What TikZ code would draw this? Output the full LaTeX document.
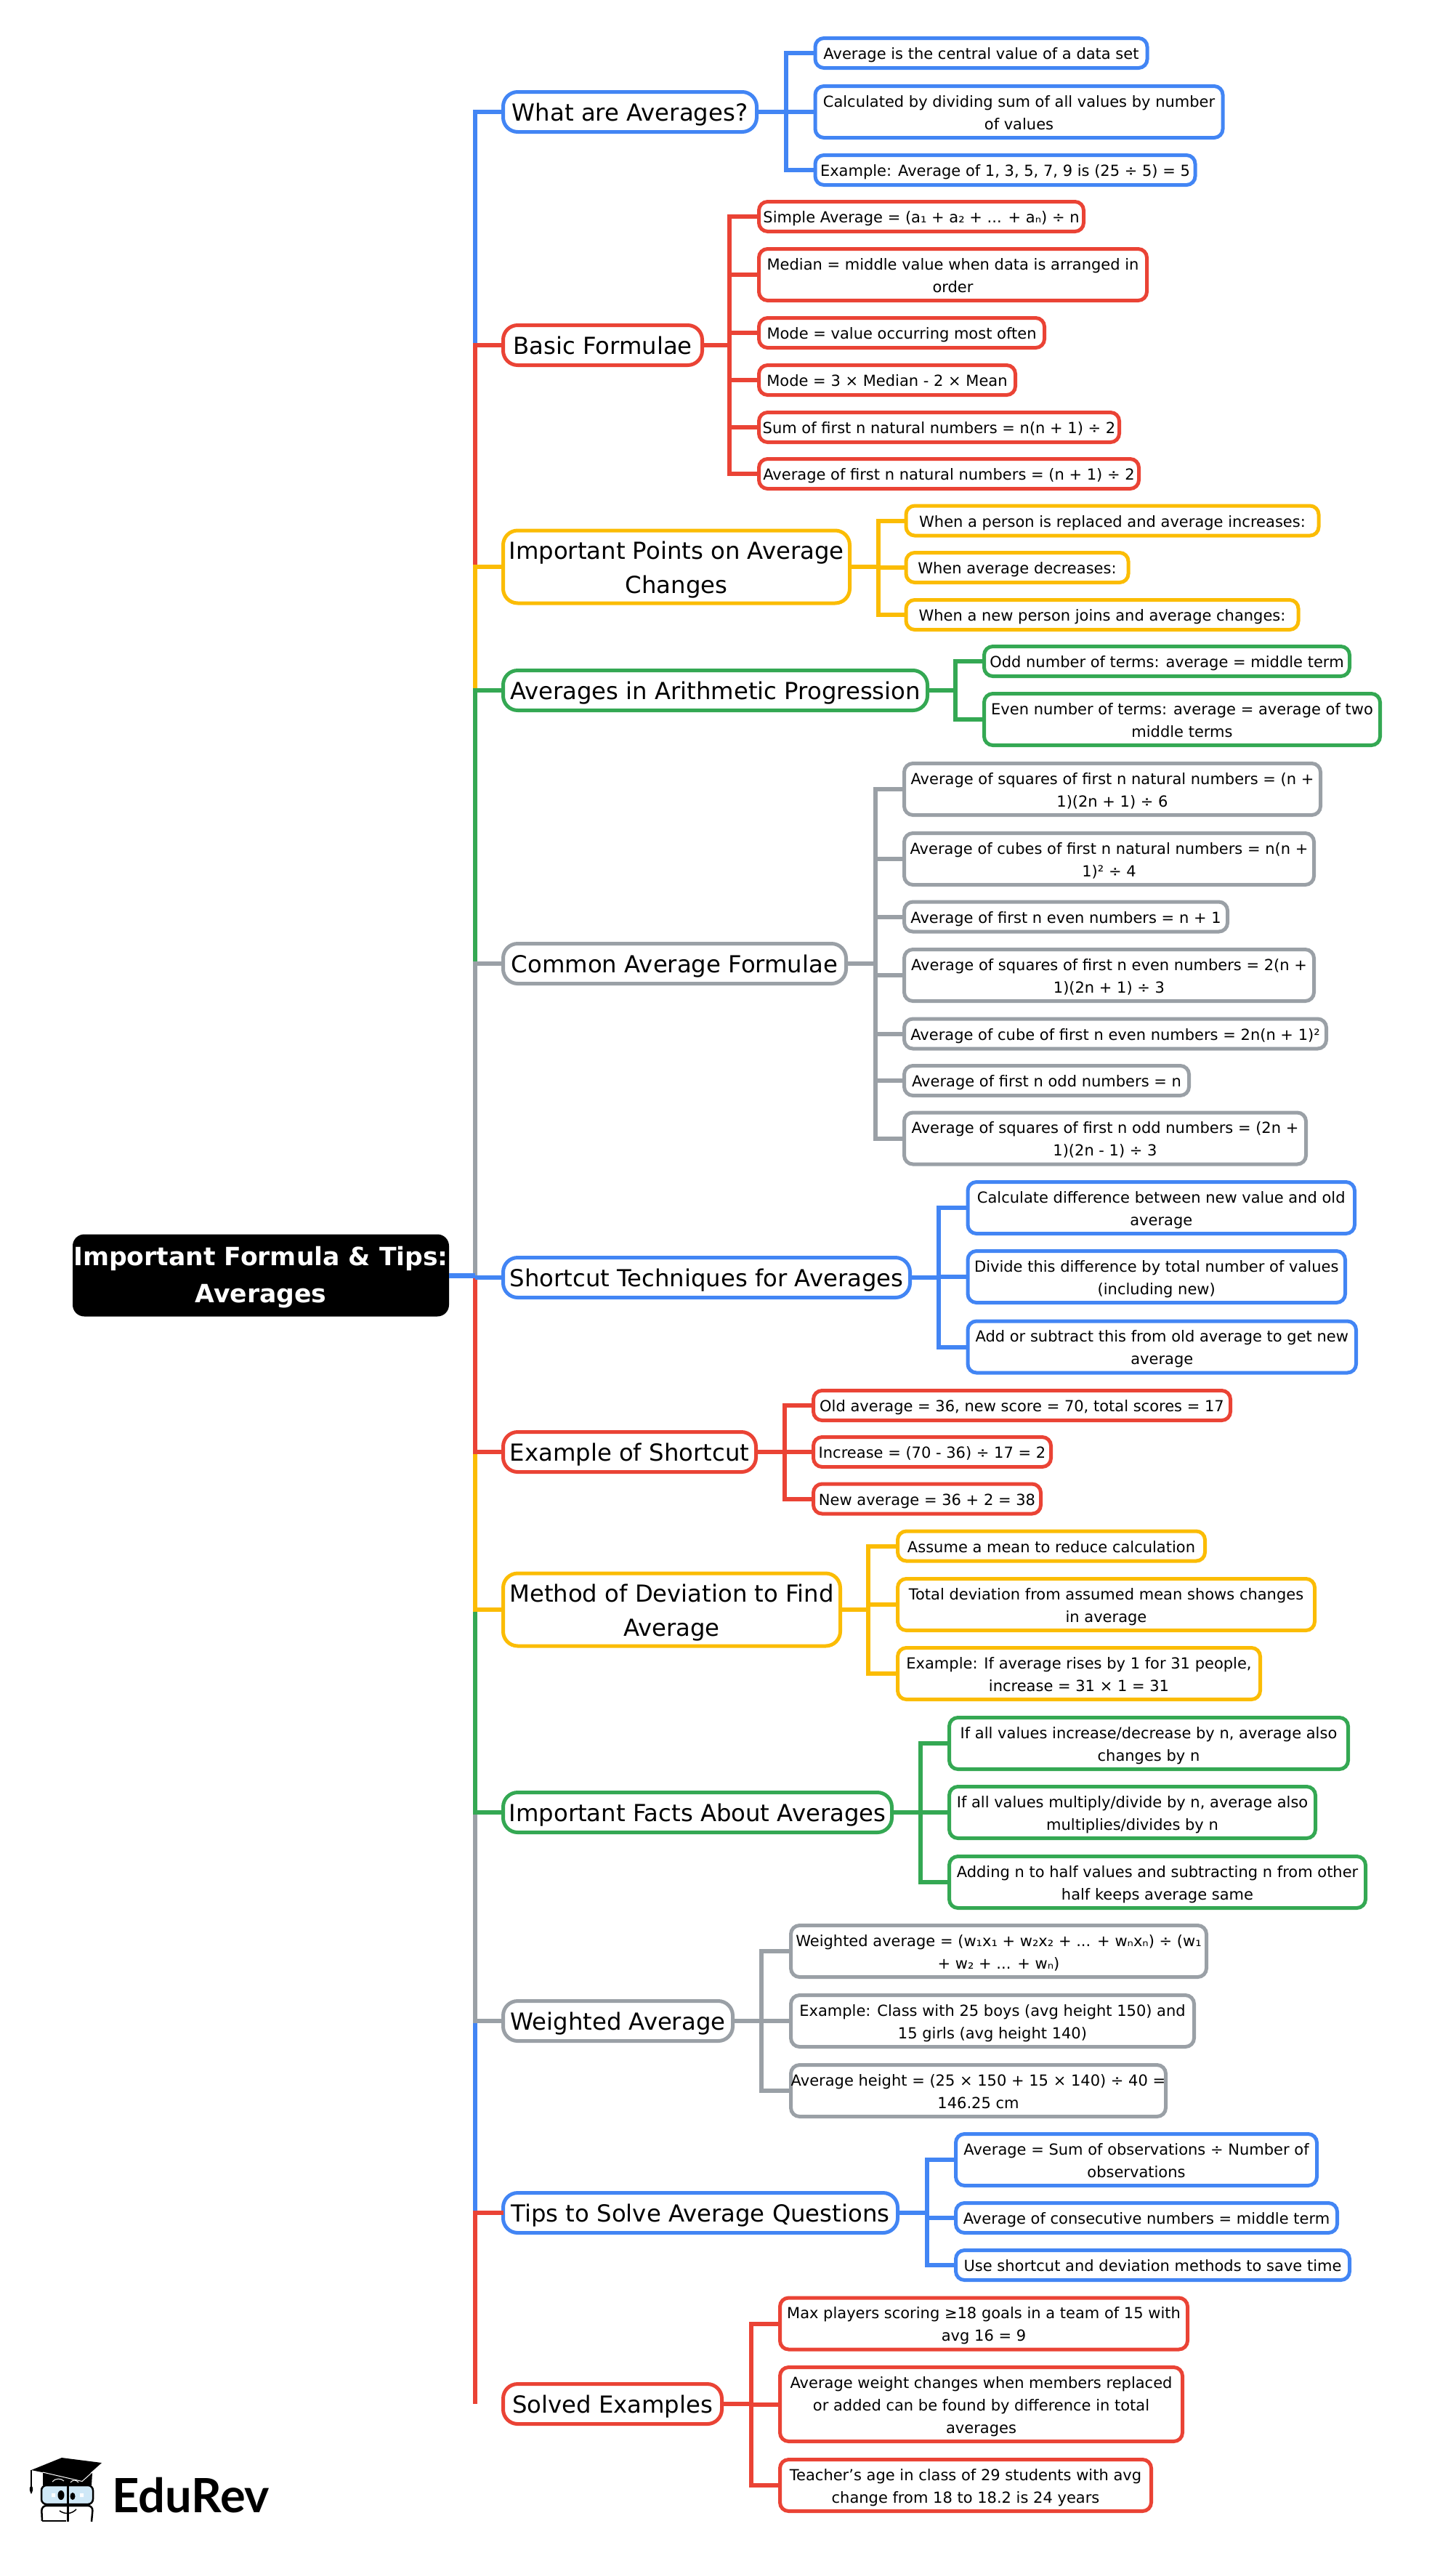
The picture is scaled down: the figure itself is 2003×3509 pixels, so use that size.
\documentclass[tikz,border=0pt]{standalone}
\usepackage{fontspec}
\setmainfont{DejaVu Sans}
\newfontfamily\logofont{Lato}
\definecolor{cblue}{HTML}{4285F4}
\definecolor{cred}{HTML}{EA4335}
\definecolor{cyel}{HTML}{FBBC04}
\definecolor{cgreen}{HTML}{34A853}
\definecolor{cgray}{HTML}{9AA0A6}
\definecolor{lens}{HTML}{CFE8F7}
\tikzset{
    link/.style={line width=6},
    leaf/.style={draw, anchor=west, line width=5, rounded corners=12, outer sep=0pt, inner sep=0pt,
        align=center, minimum height=41, font=\fontsize{21}{31}\selectfont,
        execute at begin node={\def\sa{\rule{0pt}{22.4pt}}\def\sb{\rule[-5pt]{0pt}{5pt}}\sa}, execute at end node={\sb}},
    tall/.style={minimum height=71},
    branch/.style={draw, anchor=west, line width=5, rounded corners=20, outer sep=0pt, inner sep=0pt,
        align=center, minimum height=55, font=\fontsize{32.3}{47}\selectfont,
        execute at begin node={\def\sa{\rule{0pt}{32pt}}\def\sb{\rule[-7pt]{0pt}{7pt}}\sa}, execute at end node={\sb}},
    wide/.style={minimum height=100},
}
\begin{document}
\begin{tikzpicture}[x=1pt,y=-1pt]
    \useasboundingbox (0,0) rectangle (2003,3509);

    \node[fill=black, text=white, anchor=west, rounded corners=16, outer sep=0pt, inner sep=0pt, align=center,
        minimum width=518, minimum height=113, font=\fontsize{34.6}{51}\selectfont\bfseries] (root) at (100,1755)
        {\rule{0pt}{31.4pt}Important Formula \& Tips:\\Averages\rule[-8pt]{0pt}{8pt}};
    \coordinate (t) at (654,1755);

    % main branches
    \node[branch,cblue,text=black,minimum width=349] (what) at (692.5,154) {What are Averages?};
    \node[branch,cred,text=black,minimum width=274] (basic) at (692.5,475) {Basic Formulae};
    \node[branch,cyel,text=black,minimum width=477,wide] (points) at (692.5,780) {\sa Important Points on Average\\Changes\sb};
    \node[branch,cgreen,text=black,minimum width=584] (arith) at (692.5,950) {Averages in Arithmetic Progression};
    \node[branch,cgray,text=black,minimum width=472] (common) at (692.5,1326) {Common Average Formulae};
    \node[branch,cblue,text=black,minimum width=560] (shortcut) at (692.5,1758) {Shortcut Techniques for Averages};
    \node[branch,cred,text=black,minimum width=348] (example) at (692.5,1998) {Example of Shortcut};
    \node[branch,cyel,text=black,minimum width=464,wide] (method) at (692.5,2215) {\sa Method of Deviation to Find\\Average\sb};
    \node[branch,cgreen,text=black,minimum width=535] (facts) at (692.5,2494) {Important Facts About Averages};
    \node[branch,cgray,text=black,minimum width=316] (weighted) at (692.5,2781) {Weighted Average};
    \node[branch,cblue,text=black,minimum width=543] (tips) at (692.5,3045) {Tips to Solve Average Questions};
    \node[branch,cred,text=black,minimum width=301] (solved) at (692.5,3308) {Solved Examples};

    % leaves
    \node[leaf,cblue,text=black,minimum width=457] (w1) at (1122,73) {Average is the central value of a data set};
    \node[leaf,cblue,text=black,minimum width=561,tall] (w2) at (1122,154) {\sa Calculated by dividing sum of all values by number\\of values\sb};
    \node[leaf,cblue,text=black,minimum width=523] (w3) at (1122,234) {Example: Average of 1, 3, 5, 7, 9 is (25 ÷ 5) = 5};

    \node[leaf,cred,text=black,minimum width=447] (b1) at (1044.5,298) {Simple Average = (a₁ + a₂ + ... + aₙ) ÷ n};
    \node[leaf,cred,text=black,minimum width=534,tall] (b2) at (1044.5,378) {\sa Median = middle value when data is arranged in\\order\sb};
    \node[leaf,cred,text=black,minimum width=393] (b3) at (1044.5,458) {Mode = value occurring most often};
    \node[leaf,cred,text=black,minimum width=353] (b4) at (1044.5,523) {Mode = 3 × Median - 2 × Mean};
    \node[leaf,cred,text=black,minimum width=496] (b5) at (1044.5,588) {Sum of first n natural numbers = n(n + 1) ÷ 2};
    \node[leaf,cred,text=black,minimum width=523] (b6) at (1044.5,652) {Average of first n natural numbers = (n + 1) ÷ 2};

    \node[leaf,cyel,text=black,minimum width=568] (p1) at (1247,716.5) {When a person is replaced and average increases:};
    \node[leaf,cyel,text=black,minimum width=306] (p2) at (1247,781) {When average decreases:};
    \node[leaf,cyel,text=black,minimum width=540] (p3) at (1247,846) {When a new person joins and average changes:};

    \node[leaf,cgreen,text=black,minimum width=503] (a1) at (1354.5,910) {Odd number of terms: average = middle term};
    \node[leaf,cgreen,text=black,minimum width=545,tall] (a2) at (1354.5,990) {\sa Even number of terms: average = average of two\\middle terms\sb};

    \node[leaf,cgray,text=black,minimum width=573,tall] (c1) at (1244.5,1086) {\sa Average of squares of first n natural numbers = (n +\\1)(2n + 1) ÷ 6\sb};
    \node[leaf,cgray,text=black,minimum width=564,tall] (c2) at (1244.5,1182) {\sa Average of cubes of first n natural numbers = n(n +\\1)² ÷ 4\sb};
    \node[leaf,cgray,text=black,minimum width=445] (c3) at (1244.5,1261.5) {Average of first n even numbers = n + 1};
    \node[leaf,cgray,text=black,minimum width=564,tall] (c4) at (1244.5,1342) {\sa Average of squares of first n even numbers = 2(n +\\1)(2n + 1) ÷ 3\sb};
    \node[leaf,cgray,text=black,minimum width=581] (c5) at (1244.5,1422.5) {Average of cube of first n even numbers = 2n(n + 1)²};
    \node[leaf,cgray,text=black,minimum width=392] (c6) at (1244.5,1487) {Average of first n odd numbers = n};
    \node[leaf,cgray,text=black,minimum width=553,tall] (c7) at (1244.5,1566.5) {\sa Average of squares of first n odd numbers = (2n +\\1)(2n - 1) ÷ 3\sb};

    \node[leaf,cblue,text=black,minimum width=532.5,tall] (s1) at (1332,1662) {\sa Calculate difference between new value and old\\average\sb};
    \node[leaf,cblue,text=black,minimum width=519.5,tall] (s2) at (1332,1757) {\sa Divide this difference by total number of values\\(including new)\sb};
    \node[leaf,cblue,text=black,minimum width=534.5,tall] (s3) at (1332,1853.5) {\sa Add or subtract this from old average to get new\\average\sb};

    \node[leaf,cred,text=black,minimum width=574] (e1) at (1119.5,1934) {Old average = 36, new score = 70, total scores = 17};
    \node[leaf,cred,text=black,minimum width=327] (e2) at (1119.5,1998) {Increase = (70 - 36) ÷ 17 = 2};
    \node[leaf,cred,text=black,minimum width=313] (e3) at (1119.5,2062.5) {New average = 36 + 2 = 38};

    \node[leaf,cyel,text=black,minimum width=423] (m1) at (1235.5,2127.5) {Assume a mean to reduce calculation};
    \node[leaf,cyel,text=black,minimum width=574,tall] (m2) at (1235.5,2208) {\sa Total deviation from assumed mean shows changes\\in average\sb};
    \node[leaf,cyel,text=black,minimum width=499,tall] (m3) at (1235.5,2303) {\sa Example: If average rises by 1 for 31 people,\\increase = 31 × 1 = 31\sb};

    \node[leaf,cgreen,text=black,minimum width=549,tall] (f1) at (1306.5,2399) {\sa If all values increase/decrease by n, average also\\changes by n\sb};
    \node[leaf,cgreen,text=black,minimum width=504,tall] (f2) at (1306.5,2494) {\sa If all values multiply/divide by n, average also\\multiplies/divides by n\sb};
    \node[leaf,cgreen,text=black,minimum width=573,tall] (f3) at (1306.5,2590) {\sa Adding n to half values and subtracting n from other\\half keeps average same\sb};

    \node[leaf,cgray,text=black,minimum width=572,tall] (g1) at (1088.5,2685) {\sa Weighted average = (w₁x₁ + w₂x₂ + ... + wₙxₙ) ÷ (w₁\\+ w₂ + ... + wₙ)\sb};
    \node[leaf,cgray,text=black,minimum width=555,tall] (g2) at (1088.5,2781) {\sa Example: Class with 25 boys (avg height 150) and\\15 girls (avg height 140)\sb};
    \node[leaf,cgray,text=black,minimum width=516,tall] (g3) at (1088.5,2877) {\sa Average height = (25 × 150 + 15 × 140) ÷ 40 =\\146.25 cm\sb};

    \node[leaf,cblue,text=black,minimum width=497,tall] (q1) at (1315.5,2972) {\sa Average = Sum of observations ÷ Number of\\observations\sb};
    \node[leaf,cblue,text=black,minimum width=525] (q2) at (1315.5,3052) {Average of consecutive numbers = middle term};
    \node[leaf,cblue,text=black,minimum width=542] (q3) at (1315.5,3117) {Use shortcut and deviation methods to save time};

    \node[leaf,cred,text=black,minimum width=561,tall] (x1) at (1073.5,3197.5) {\sa Max players scoring ≥18 goals in a team of 15 with\\avg 16 = 9\sb};
    \node[leaf,cred,text=black,minimum width=554,minimum height=102] (x2) at (1073.5,3308.5) {\sa Average weight changes when members replaced\\or added can be found by difference in total\\averages\sb};
    \node[leaf,cred,text=black,minimum width=511,tall] (x3) at (1073.5,3420) {\sa Teacher’s age in class of 29 students with avg\\change from 18 to 18.2 is 24 years\sb};

    % trunk
    \foreach \a/\b/\c in {what/basic/cblue, basic/points/cred, points/arith/cyel, arith/common/cgreen, common/root/cgray,
        weighted/tips/cblue, tips/solved/cred}
        \draw[link,\c] (\a.west) -| (t |- \b.west);
    \foreach \a/\b/\c in {facts/weighted/cgray, method/facts/cgreen, example/method/cyel}
        \draw[link,\c] (\b.west) -| (t |- \a.west);
    \draw[link,cred] (example.west) -| (t);
    \draw[link,cblue] (shortcut.west) -- (t |- shortcut.west);
    \draw[link,cblue,line width=7] (root.east) -- (t);

    % buses
    \foreach \k in {w1,w2,w3} \draw[link,cblue] (what.east) -- (what.east -| 1082,0) |- (\k.west);
    \foreach \k in {b1,b2,b3,b4,b5,b6} \draw[link,cred] (basic.east) -- (basic.east -| 1004,0) |- (\k.west);
    \foreach \k in {p1,p2,p3} \draw[link,cyel] (points.east) -- (points.east -| 1209,0) |- (\k.west);
    \foreach \k in {a1,a2} \draw[link,cgreen] (arith.east) -- (arith.east -| 1315,0) |- (\k.west);
    \foreach \k in {c1,c2,c3,c4,c5,c6,c7} \draw[link,cgray] (common.east) -- (common.east -| 1205,0) |- (\k.west);
    \foreach \k in {s1,s2,s3} \draw[link,cblue] (shortcut.east) -- (shortcut.east -| 1292,0) |- (\k.west);
    \foreach \k in {e1,e2,e3} \draw[link,cred] (example.east) -- (example.east -| 1080,0) |- (\k.west);
    \foreach \k in {m1,m2,m3} \draw[link,cyel] (method.east) -- (method.east -| 1195,0) |- (\k.west);
    \foreach \k in {f1,f2,f3} \draw[link,cgreen] (facts.east) -- (facts.east -| 1267,0) |- (\k.west);
    \foreach \k in {g1,g2,g3} \draw[link,cgray] (weighted.east) -- (weighted.east -| 1048,0) |- (\k.west);
    \foreach \k in {q1,q2,q3} \draw[link,cblue] (tips.east) -- (tips.east -| 1276,0) |- (\k.west);
    \foreach \k in {x1,x2,x3} \draw[link,cred] (solved.east) -- (solved.east -| 1034,0) |- (\k.west);

    % logo
    \fill (59,3403) -- (127,3403) -- (126,3420) -- (59,3420) -- cycle;
    \fill (43,3399) -- (85,3382) -- (140,3389) -- (113,3413) -- cycle;
    \draw[white,line width=1] (59,3402) -- (113,3414.5) -- (127,3402);
    \draw[white,line width=1] (72,3415) .. controls (76,3410) and (84,3410) .. (88,3414);
    \draw[white,line width=1] (97,3416) .. controls (100,3412) and (105,3412) .. (108,3416);
    \draw[line width=1.5] (43,3399) -- (43,3422);
    \fill (43,3420) .. controls (47,3424) and (45,3428) .. (43,3432) .. controls (41,3428) and (39,3424) .. (43,3420);
    \draw[line width=2.5,fill=lens,rounded corners=7] (57,3420) rectangle (128,3446);
    \fill[white] (71,3431) rectangle (76,3436) (110,3431) rectangle (115,3436);
    \draw[line width=2.5,rounded corners=7] (58,3469) -- (57,3448) -- (128,3448) -- (126,3470);
    \draw[line width=2.5] (58,3469) -- (91,3469);
    \draw[line width=3] (93.5,3418) -- (93.5,3470);
    \fill (84,3433.5) ellipse (4.5 and 6.5);
    \fill (100,3435) ellipse (3.5 and 5);
    \draw[line width=1.5] (82,3455) .. controls (89,3460) and (98,3460) .. (105,3453);
    \node[anchor=base west, inner sep=0pt, font=\fontsize{65}{65}\selectfont\logofont\bfseries] (logotext) at (154,3457) {EduRev};
\end{tikzpicture}
\end{document}
